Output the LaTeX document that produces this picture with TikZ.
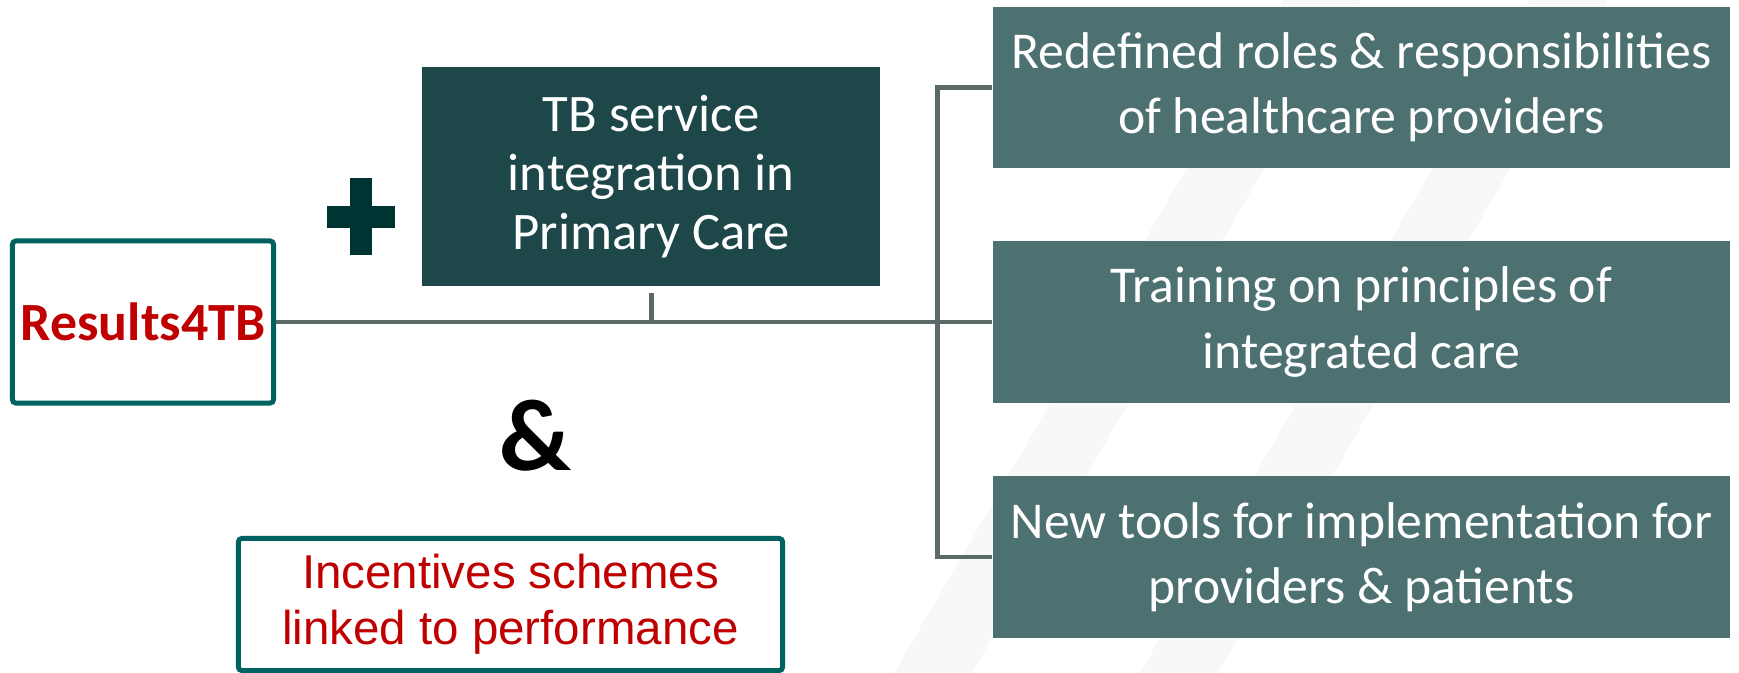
\documentclass[tikz,border=0pt]{standalone}
\usepackage{fontspec}
\setmainfont{Carlito}
\newfontfamily\arialfont{Liberation Sans}
\usepackage{xcolor}
\usepackage{tikz}
\definecolor{rtTeal}{RGB}{0,98,96}
\definecolor{rtDark}{RGB}{29,71,72}
\definecolor{rtPlus}{RGB}{0,52,51}
\definecolor{rtSlate}{RGB}{77,112,112}
\definecolor{rtLine}{RGB}{91,106,105}
\definecolor{rtRed}{RGB}{192,0,0}
\definecolor{rtStripe}{RGB}{248,248,248}
\tikzstyle{fRoot} = [rectangle, rounded corners=1pt, minimum width=2.61cm, minimum height=1.62cm, inner sep=0pt, draw=rtTeal, line width=1.42pt, fill=white, text=rtRed, font=\bfseries\fontsize{15.3pt}{18pt}\selectfont]
\tikzstyle{fCore} = [rectangle, minimum width=4.58cm, minimum height=2.19cm, inner sep=0pt, fill=rtDark, text=white, align=center, font=\fontsize{15pt}{16.8pt}\selectfont]
\tikzstyle{fAction} = [rectangle, minimum width=7.37cm, minimum height=1.61cm, inner sep=0pt, fill=rtSlate, text=white, align=center, font=\fontsize{14.7pt}{18.5pt}\selectfont]
\tikzstyle{fIncentive} = [rectangle, rounded corners=1pt, minimum width=5.44cm, minimum height=1.32cm, inner sep=0pt, draw=rtTeal, line width=1.42pt, fill=white, text=rtRed, align=center, font=\arialfont\fontsize{13.5pt}{15.9pt}\selectfont]
\tikzstyle{fLink} = [draw=rtLine, line width=1.42pt]

\begin{document}
\begin{tikzpicture}[x=0.01cm, y=-0.01cm]
    \useasboundingbox (0,0) rectangle (1739,673);
    \fill[rtStripe] (1284,0) -- (1362,0) -- (972,673) -- (894,673) -- cycle;
    \fill[rtStripe] (1530,0) -- (1608,0) -- (1218,673) -- (1140,673) -- cycle;

    \node (results) [fRoot] at (143,322) {Results4TB};
    \node (core) [fCore] at (651,176.5) {TB service\\integration in\\Primary Care};
    \node (roles) [fAction] at (1361.5,87.5) {Redefined roles \& responsibilities\\of healthcare providers};
    \node (training) [fAction] at (1361.5,322) {Training on principles of\\integrated care};
    \node (tools) [fAction] at (1361.5,557) {New tools for implementation for\\providers \& patients};
    \node (amp) [font=\bfseries\fontsize{29pt}{32pt}\selectfont, inner sep=0pt] at (535.5,436) {\&};
    \node (incentive) [fIncentive] at (510.5,604.5) {Incentives schemes\\linked to performance};
    \coordinate (hub) at (937,322);

    \fill[rtPlus] (350,178) rectangle (372,255);
    \fill[rtPlus] (327,206) rectangle (395,228);

    \draw [fLink] (results.east) -- (training.west);
    \draw [fLink] ([yshift=-0.06cm]core.south) -- (core.south |- results.east);
    \draw [fLink] (roles.west) -| (hub) |- (tools.west);
\end{tikzpicture}
\end{document}
